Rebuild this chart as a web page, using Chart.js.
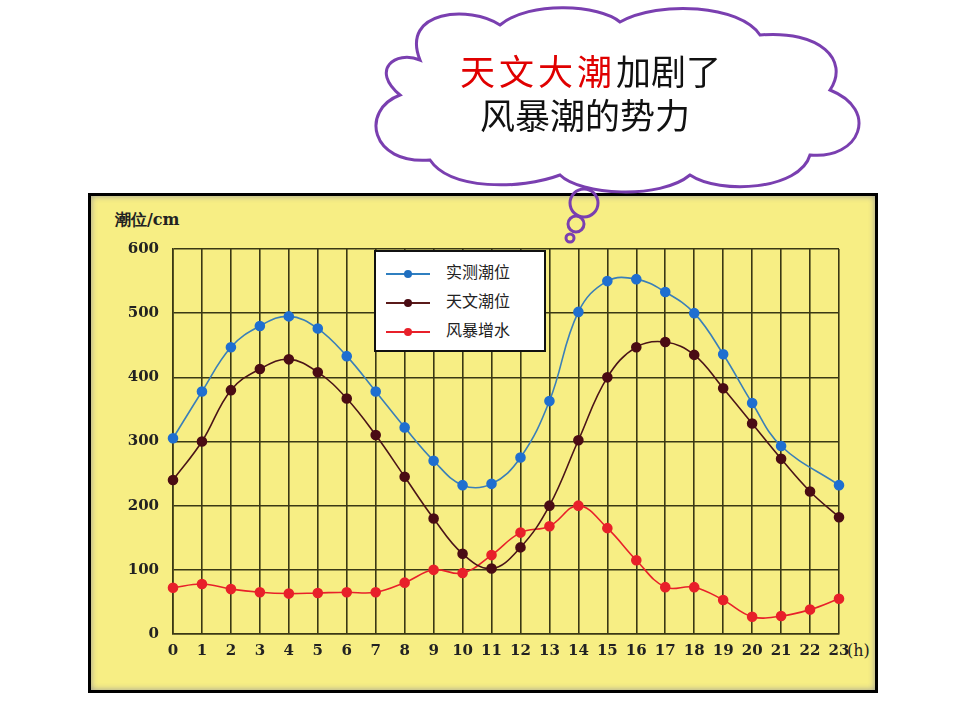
<!DOCTYPE html>
<html><head><meta charset="utf-8">
<script src="https://cdn.jsdelivr.net/npm/chart.js@4"></script>
<style>
body{margin:0;width:960px;height:720px;background:#fff;position:relative;overflow:hidden;font-family:"Noto Sans CJK SC",sans-serif}
#panel{position:absolute;left:88px;top:193px;width:784px;height:494px;border:3px solid #000;background:#f7ee84;box-shadow:inset 0 0 6px #999}
#wrap{position:absolute;left:88px;top:193px;width:790px;height:500px}
.t{position:absolute;font-family:"DejaVu Serif",serif;font-weight:bold;font-size:15px;color:#222}
#legend{position:absolute;left:374px;top:250px;width:168px;height:98px;background:#fff;border:2px solid #111;font-family:"Noto Sans CJK SC";font-size:16px;color:#222}
#legend div{position:absolute;left:10px;height:20px;line-height:20px}
#legend i{display:inline-block;width:44px;height:2px;vertical-align:middle;position:relative;margin-right:16px}
#legend i b{position:absolute;left:18px;top:-3px;width:8px;height:8px;border-radius:50%}
#bubble{position:absolute;left:0;top:0;z-index:5}
#msg{position:absolute;left:460px;top:48px;width:320px;font-size:35px;line-height:44px;text-align:left;color:#111;z-index:6}
</style></head><body>
<div id="panel"></div>
<svg id="bubble" width="960" height="260">
<path d="M420 60 C400 10 470 5 500 25 C530 0 600 5 620 22 C660 0 740 5 760 35 C820 30 850 60 830 90 C880 110 860 160 810 155 C800 190 720 195 690 175 C660 200 580 195 560 175 C520 190 450 190 430 160 C370 165 360 110 400 95 C370 70 395 50 420 60 Z" fill="#fff" stroke="#7a3fb0" stroke-width="3"/>
<circle cx="584" cy="203" r="14" fill="none" stroke="#7a3fb0" stroke-width="3"/>
<circle cx="576" cy="224" r="8" fill="none" stroke="#7a3fb0" stroke-width="3"/>
<circle cx="570" cy="238" r="4" fill="none" stroke="#7a3fb0" stroke-width="3"/>
</svg>
<div id="msg"><span style="color:#e00000;letter-spacing:4px">天文大潮</span>加剧了<br><span style="margin-left:20px">风暴潮的势力</span></div>
<div class="t" style="left:115px;top:210px;font-size:16px">潮位/cm</div>
<div class="t" style="left:847px;top:641px;font-weight:normal;font-size:16px">(h)</div>
<div id="wrap"><canvas id="c" width="790" height="500"></canvas></div>
<div id="legend">
<div style="top:9px"><i style="background:#2f7fc0"><b style="background:#1f6fc0"></b></i>实测潮位</div>
<div style="top:38px"><i style="background:#5a1a1a"><b style="background:#4a0c14"></b></i>天文潮位</div>
<div style="top:67px"><i style="background:#e8202a"><b style="background:#e8202a"></b></i>风暴增水</div>
</div>
<script>
const hours = ['0','1','2','3','4','5','6','7','8','9','10','11','12','13','14','15','16','17','18','19','20','21','22','23'];
const measured = [305,378,447,480,495,476,433,378,322,270,232,234,275,363,502,550,553,533,500,436,360,293,null,232];
const astronomical = [240,300,380,413,428,408,367,310,245,180,125,102,135,200,302,400,447,455,435,383,328,273,222,182];
const surge = [72,78,70,65,63,64,65,65,80,100,95,123,158,168,200,165,115,73,73,53,27,28,38,55];
const yTicks = [0,100,200,300,400,500,600];

const ds = (label, data, color, pt) => ({
  label, data, borderColor: color, backgroundColor: pt, pointBackgroundColor: pt,
  pointBorderColor: pt, pointRadius: 4.5, borderWidth: 1.6, tension: 0.4, spanGaps: true
});

new Chart(document.getElementById('c'), {
  type: 'line',
  data: {
    labels: hours,
    datasets: [
      ds('实测潮位', measured, '#3a7fb8', '#1f6fd0'),
      ds('天文潮位', astronomical, '#4a1418', '#4a0c14'),
      ds('风暴增水', surge, '#e8202a', '#e8202a')
    ]
  },
  options: {
    responsive: false, animation: false,
    layout: { padding: { left: 25, right: 39, top: 56, bottom: 24 } },
    plugins: { legend: { display: false }, tooltip: { enabled: false } },
    scales: {
      x: {
        offset: false,
        grid: { color: '#3a3814', lineWidth: 1.6, drawTicks: false },
        border: { color: '#3a3814', width: 1.6 },
        ticks: { color: '#222', padding: 8, maxRotation: 0, autoSkip: false, font: { family: 'DejaVu Serif', size: 15, weight: 'bold' } },
        afterFit: s => { s.height = 35; }
      },
      y: {
        min: 0, max: 600,
        afterBuildTicks: s => { s.ticks = yTicks.map(v => ({ value: v })); },
        grid: { color: '#3a3814', lineWidth: 1.6, drawTicks: false },
        border: { color: '#3a3814', width: 1.6 },
        ticks: { color: '#222', padding: 14, font: { family: 'DejaVu Serif', size: 15, weight: 'bold' } },
        afterFit: s => { s.width = 60; }
      }
    }
  }
});
</script>
</body></html>
